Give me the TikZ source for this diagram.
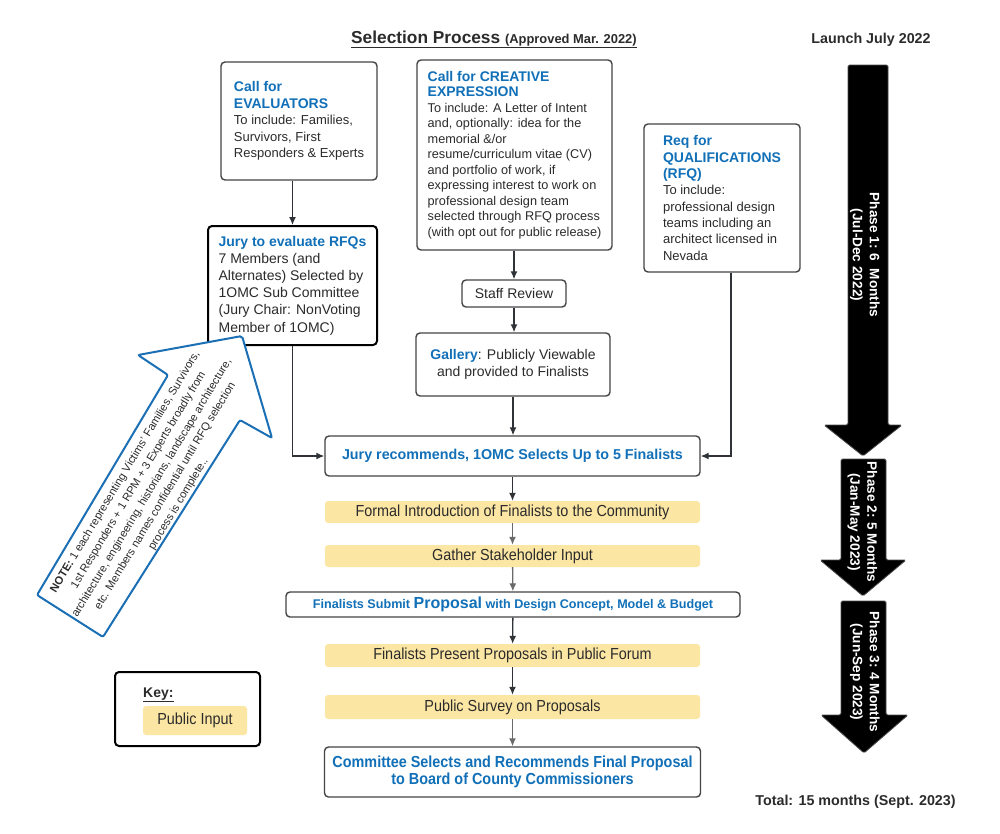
\documentclass[tikz,border=0pt]{standalone}
\usepackage{fontspec}
\setmainfont{Liberation Sans}
\newfontfamily\narrowfont[FakeStretch=0.9]{Liberation Sans}
\usetikzlibrary{arrows.meta}

\definecolor{headblue}{HTML}{1170B8}
\definecolor{boxline}{HTML}{444444}
\definecolor{inputyellow}{HTML}{FCE6A4}
\definecolor{textdark}{HTML}{2B2B2B}
\definecolor{arrowdark}{HTML}{2F3338}
\definecolor{arrowgray}{HTML}{6A6A6A}
\definecolor{noteblue}{HTML}{1B6FB5}

\newcommand{\fsize}[2]{\fontsize{#1}{#2}\selectfont}
\newcommand{\bluehead}[1]{\textcolor{headblue}{\bfseries\fsize{14}{17}#1}}

\tikzset{
  procbox/.style={draw=boxline, line width=1.4pt, rounded corners=4pt, fill=white,
    inner sep=0pt, text=textdark},
  jurybox/.style={procbox, draw=black, line width=2pt},
  stepblue/.style={procbox, text=headblue, align=center, font=\bfseries\fsize{14.3}{17}},
  inputbox/.style={fill=inputyellow, rounded corners=3pt, inner sep=0pt,
    text=textdark, font=\narrowfont\fsize{16}{17}},
  flow/.style={draw=arrowdark, line width=1.3pt, -{Latex[length=8pt,width=7pt]}},
  softflow/.style={flow, draw=arrowgray},
  phasearrow/.style={fill=black, draw=black!70, line width=0.8pt, rounded corners=1.5pt},
  phasetext/.style={text=white, rotate=-90, align=center, font=\bfseries\fsize{13.6}{17}},
  plainbold/.style={text=textdark, inner sep=0pt, font=\bfseries\fsize{14.3}{17}}
}

\begin{document}
\begin{tikzpicture}[x=1pt, y=-1pt]
\useasboundingbox (0,0) rectangle (1000,833);

% headings
\node[plainbold, anchor=base west] (title) at (351,43.5)
  {\underline{\fsize{17.3}{20}Selection Process \fsize{12.9}{15}(Approved Mar. 2022)}};
\node[plainbold, anchor=base] (launch) at (871,43) {Launch July 2022};
\node[plainbold, anchor=base] (total) at (855.5,805) {Total: 15 months (Sept. 2023)};

% phase arrows on the right
\draw[phasearrow] (848,65) -- (888,65) -- (888,425) -- (902,425) -- (863,456)
  -- (824,425) -- (848,425) -- cycle;
\draw[phasearrow] (841,459) -- (886,459) -- (886,560) -- (906,560) -- (863,596)
  -- (820,560) -- (841,560) -- cycle;
\draw[phasearrow] (841,601) -- (886,601) -- (886,715) -- (908,715) -- (864,753)
  -- (821,715) -- (841,715) -- cycle;
\node[phasetext] (phaseone) at (865,255) {Phase 1: 6\ \ Months\\(Jul-Dec 2022)};
\node[phasetext] (phasetwo) at (862.5,522) {Phase 2: 5 Months\\(Jan-May 2023)};
\node[phasetext] (phasethree) at (865,672) {Phase 3: 4 Months\\(Jun-Sep 2023)};

% top row of calls
\node[procbox, align=left, minimum width=156, minimum height=118, font=\fsize{13}{16.5}]
  (eval) at (299,121)
  {\bluehead{Call for}\\\bluehead{EVALUATORS}\\To include: Families,\\Survivors, First\\Responders \& Experts};
\node[procbox, align=left, minimum width=195, minimum height=190, font=\fsize{12.7}{15.5}]
  (creative) at (514.5,155)
  {\bluehead{Call for CREATIVE}\\\bluehead{EXPRESSION}\\To include: A Letter of Intent\\
   and, optionally: idea for the\\memorial \&/or\\resume/curriculum vitae (CV)\\
   and portfolio of work, if\\expressing interest to work on\\professional design team\\
   selected through RFQ process\\(with opt out for public release)};
\node[procbox, align=left, minimum width=156, minimum height=148, font=\fsize{13}{16.3}]
  (rfq) at (722,198)
  {\bluehead{Req for}\\\bluehead{QUALIFICATIONS}\\\bluehead{(RFQ)}\\To include:\\
   professional design\\teams including an\\architect licensed in\\Nevada};

% jury and creative review
\node[jurybox, align=left, minimum width=169, minimum height=119, font=\fsize{14}{17.2}]
  (jury) at (292.5,285.5)
  {\bluehead{Jury to evaluate RFQs}\\7 Members (and\\Alternates) Selected by\\
   1OMC Sub Committee\\(Jury Chair: NonVoting\\Member of 1OMC)};
\node[procbox, minimum width=104, minimum height=27, font=\fsize{14}{17}]
  (staff) at (514,293.5) {Staff Review};
\node[procbox, align=center, minimum width=194, minimum height=63, font=\fsize{14}{17}]
  (gallery) at (513,364.5)
  {\textcolor{headblue}{\bfseries Gallery}: Publicly Viewable\\and provided to Finalists};

% finalist steps
\node[stepblue, minimum width=375, minimum height=40] (juryrec) at (512.5,456)
  {Jury recommends, 1OMC Selects Up to 5 Finalists};
\node[inputbox, minimum width=375, minimum height=22] (formal) at (512.5,512)
  {Formal Introduction of Finalists to the Community};
\node[inputbox, minimum width=375, minimum height=22] (gather) at (512.5,556)
  {Gather Stakeholder Input};
\node[stepblue, minimum width=454, minimum height=25, font=\bfseries\fsize{12.6}{15}]
  (submit) at (513,604.5)
  {Finalists Submit {\fsize{16}{17}Proposal} with Design Concept, Model \& Budget};
\node[inputbox, minimum width=375, minimum height=23] (present) at (512.5,655.5)
  {Finalists Present Proposals in Public Forum};
\node[inputbox, minimum width=375, minimum height=24] (survey) at (512.5,707)
  {Public Survey on Proposals};
\node[procbox, text=headblue, align=center, minimum width=376, minimum height=50,
  font=\narrowfont\bfseries\fsize{16}{17}] (committee) at (512.5,772)
  {Committee Selects and Recommends Final Proposal\\to Board of County Commissioners};

% connectors
\draw[flow] (jury.north |- eval.south) -- (jury.north);
\draw[flow] (jury.south) |- (juryrec.west);
\draw[flow] (staff.north |- creative.south) -- (staff.north);
\draw[flow] (staff.south) -- (staff.south |- gallery.north);
\draw[flow] (gallery.south) -- (gallery.south |- juryrec.north);
\draw[flow] ([xshift=9pt]rfq.south) |- (juryrec.east);
\draw[flow] (juryrec) -- (formal);
\draw[softflow] (formal) -- (gather);
\draw[softflow] (gather) -- (submit);
\draw[flow] (submit) -- (present);
\draw[flow] (present) -- (survey);
\draw[softflow] (survey) -- (committee);

% note arrow pointing at the jury
\draw[draw=noteblue, fill=white, line width=2pt, rounded corners=2pt]
  (242,336) -- (272,438) -- (240,420) -- (103,637) -- (37,595) -- (168,375)
  -- (138,355) -- cycle;
\node[rotate=59, align=center, text=textdark, font=\fsize{11.2}{15.5}] (note) at (152,488)
  {\textbf{NOTE:} 1 each representing Victims' Families, Survivors,\\
   1st Responders + 1 RPM + 3 Experts broadly from\\
   architecture, engineering, historians, landscape architecture,\\
   etc. Members names confidential until RFQ selection\\
   process is complete..};

% key
\node[jurybox, minimum width=145, minimum height=74] (key) at (187.5,709) {};
\node[plainbold, anchor=base west, font=\bfseries\fsize{14}{17}] (keylabel) at (143,697)
  {\underline{Key:}};
\node[inputbox, minimum width=104, minimum height=29] (keyinput) at (195,720.5)
  {Public Input};
\end{tikzpicture}
\end{document}
